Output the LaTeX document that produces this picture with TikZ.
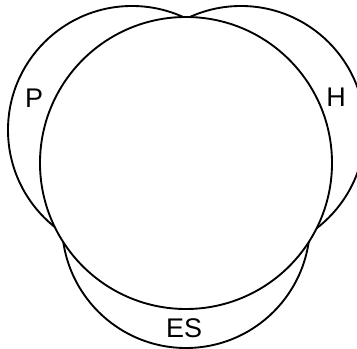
\documentclass[tikz,border=0pt]{standalone}
\usepackage{fontspec}
\setmainfont{Liberation Sans}

\begin{document}
\begin{tikzpicture}[
    x=0.03cm, y=-0.03cm,
    % Styles
    setcircle/.style={
        circle, draw=black, fill=white, line width=1.6pt,
        inner sep=0pt, outer sep=0pt, minimum size=#1
    },
    setcircle/.default=7.44cm,
    setlabel/.style={
        font=\fontsize{23}{27}\selectfont, inner sep=0pt
    }
]

% Frame (cuts the H circle at the right edge)
\clip (0, 0) rectangle (357, 349);

% ── Outer sets ──────────────────────────────────────────────────────────────
\node[setcircle] (pset) at (132, 130) {};
\node[setcircle] (hset) at (241, 130) {};
\node[setcircle] (esset) at (186, 224) {};

% ── Central set (drawn last, covers the others) ─────────────────────────────
\node[setcircle=8.76cm] (core) at (186, 163) {};

% ── Labels ──────────────────────────────────────────────────────────────────
\node[setlabel] (plabel) at (34, 98) {P};
\node[setlabel] (hlabel) at (336, 97) {H};
\node[setlabel] (eslabel) at (184, 328) {ES};

\end{tikzpicture}
\end{document}
